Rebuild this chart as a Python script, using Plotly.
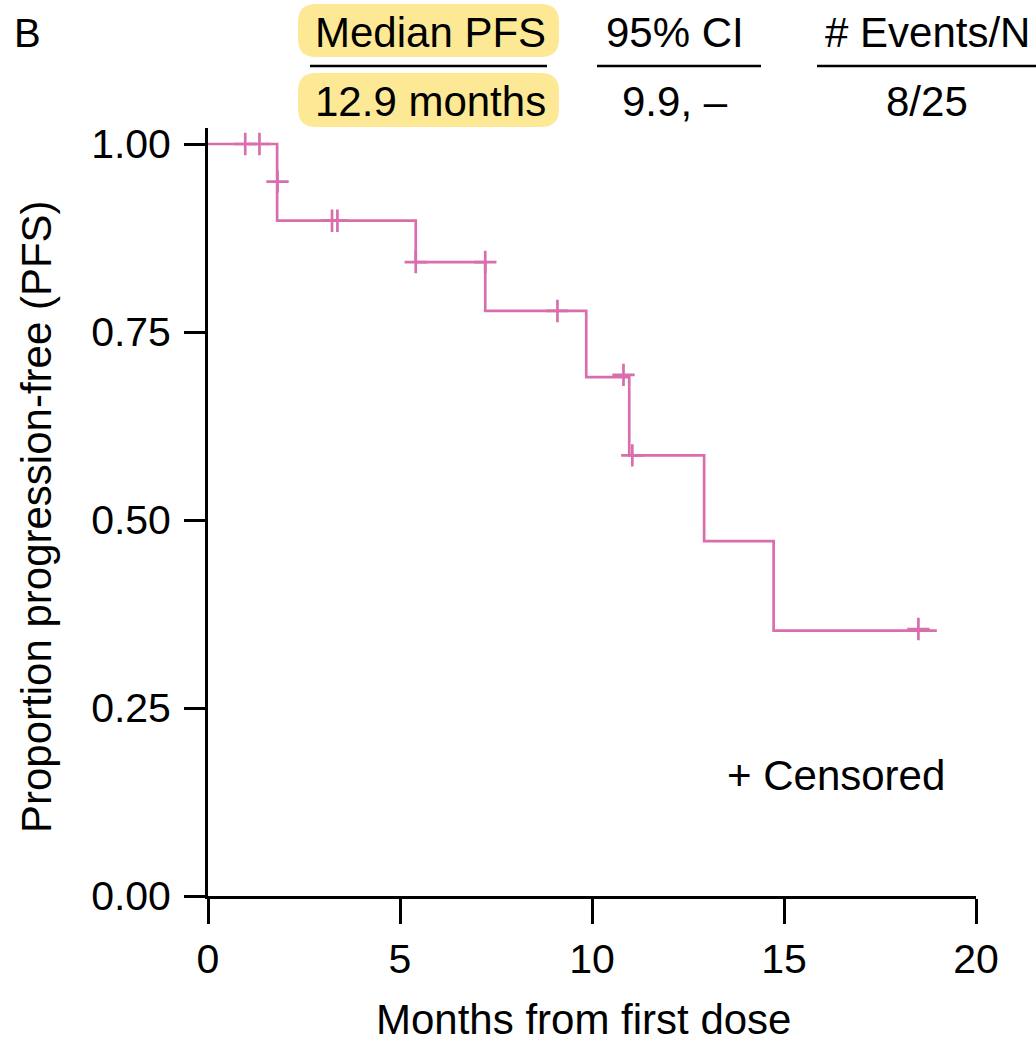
import plotly.graph_objects as go

# ---------------- data ----------------
step_times = [0.0, 1.80, 1.80, 5.41, 7.22, 9.85, 10.97, 12.92, 14.73, 18.98]
step_surv = [1.000, 0.950, 0.898, 0.843, 0.778, 0.690, 0.586, 0.472, 0.353, 0.353]

censor_times = [0.97, 1.34, 1.81, 3.23, 3.37, 5.41, 7.22, 9.10, 10.82, 11.05, 18.50]
censor_surv = [1.000, 1.000, 0.950, 0.898, 0.898, 0.843, 0.843, 0.778, 0.693, 0.586, 0.355]

x_ticks = [0, 5, 10, 15, 20]
y_ticks = [0.0, 0.25, 0.50, 0.75, 1.00]
y_tick_labels = ["0.00", "0.25", "0.50", "0.75", "1.00"]

header_cols = ["Median PFS", "95% CI", "# Events/N"]
header_vals = ["12.9 months", "9.9, \u2013", "8/25"]

x_title = "Months from first dose"
y_title = "Proportion progression-free (PFS)"
panel_label = "B"
censor_label = "+ Censored"

# ---------------- style ----------------
PINK = "#DA6EAC"
YELLOW = "#FDE995"
FONT = "Liberation Sans, Arial, Helvetica, sans-serif"
W, H = 1036, 1042
L, R, T, B = 208, 60, 128, 146
PW, PH = W - L - R, H - T - B


def px(xp):
    return (xp - L) / PW


def py(yp):
    return (H - B - yp) / PH


fig = go.Figure()

fig.add_trace(go.Scatter(
    x=step_times, y=step_surv, mode="lines",
    line=dict(color=PINK, width=2.7, shape="hv"),
    showlegend=False, hoverinfo="skip",
))
fig.add_trace(go.Scatter(
    x=censor_times, y=censor_surv, mode="markers",
    marker=dict(symbol="cross-thin", size=16, color=PINK,
                line=dict(color=PINK, width=2.7)),
    showlegend=False, hoverinfo="skip",
))

ann = []
shapes = []

# panel label
ann.append(dict(x=px(12), y=py(33), text=panel_label, xanchor="left", yanchor="middle",
                font=dict(size=40, color="black", family=FONT)))

# header columns
col_centers = [430, 675, 927]
line_spans = [(310, 547), (597, 761), (817, 1040)]
for name, val, cx, (x0, x1) in zip(header_cols, header_vals, col_centers, line_spans):
    ann.append(dict(x=px(cx), y=py(33), text=name, xanchor="center", yanchor="middle",
                    font=dict(size=42, color="black", family=FONT)))
    ann.append(dict(x=px(cx), y=py(101), text=val, xanchor="center", yanchor="middle",
                    font=dict(size=42, color="black", family=FONT)))
    shapes.append(dict(type="line", xref="paper", yref="paper",
                       x0=px(x0), x1=px(x1), y0=py(66), y1=py(66),
                       line=dict(color="black", width=2.7)))


def rounded_rect(x0, y0, x1, y1, r):
    X0, X1 = px(x0), px(x1)
    Y0, Y1 = py(y0), py(y1)
    rx, ry = r / PW, r / PH
    return (f"M {X0+rx},{Y0} L {X1-rx},{Y0} Q {X1},{Y0} {X1},{Y0-ry} "
            f"L {X1},{Y1+ry} Q {X1},{Y1} {X1-rx},{Y1} L {X0+rx},{Y1} "
            f"Q {X0},{Y1} {X0},{Y1+ry} L {X0},{Y0-ry} Q {X0},{Y0} {X0+rx},{Y0} Z")


for (y0, y1) in [(4, 57), (73, 127)]:
    shapes.append(dict(type="path", xref="paper", yref="paper",
                       path=rounded_rect(298, y0, 559, y1, 18),
                       fillcolor=YELLOW, line=dict(width=0), layer="below"))

# axis titles
ann.append(dict(x=px(583), y=py(1019), text=x_title, xanchor="center", yanchor="middle",
                font=dict(size=42, color="black", family=FONT)))
ann.append(dict(x=px(36), y=py(517), text=y_title, xanchor="center", yanchor="middle",
                textangle=-90, font=dict(size=42, color="black", family=FONT)))

# censored legend
ann.append(dict(x=px(836), y=py(775), text=censor_label, xanchor="center", yanchor="middle",
                font=dict(size=42, color="black", family=FONT)))

for a in ann:
    a.update(xref="paper", yref="paper", showarrow=False)

fig.update_layout(
    width=W, height=H,
    margin=dict(l=L, r=R, t=T, b=B, pad=0),
    paper_bgcolor="white", plot_bgcolor="white",
    annotations=ann, shapes=shapes,
    showlegend=False,
    font=dict(family=FONT, color="black"),
)

fig.update_xaxes(
    range=[0, 20], tickvals=x_ticks, ticks="outside", ticklen=25, tickwidth=2.7,
    tickcolor="black", showline=True, linecolor="black", linewidth=2.7,
    showgrid=False, zeroline=False, tickfont=dict(size=41, family=FONT, color="black"),
    ticklabelstandoff=0,
)
fig.update_yaxes(
    range=[0, 768 / 752], tickvals=y_ticks, ticktext=y_tick_labels, ticks="outside",
    ticklen=21, tickwidth=2.7, tickcolor="black", showline=True, linecolor="black",
    linewidth=2.7, showgrid=False, zeroline=False,
    tickfont=dict(size=41, family=FONT, color="black"), ticklabelstandoff=5,
)

fig.write_html("out.html")
